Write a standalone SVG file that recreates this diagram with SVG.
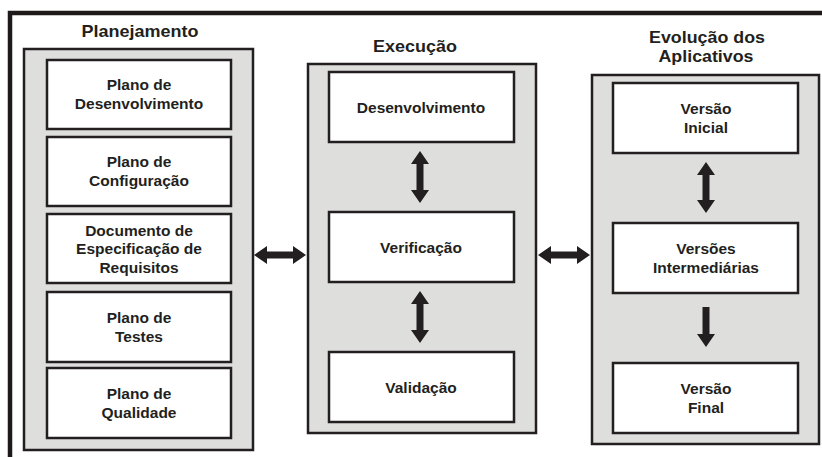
<svg xmlns="http://www.w3.org/2000/svg" width="822" height="457" viewBox="0 0 822 457">
<style>
.frame{stroke:#1e1a1a;stroke-width:4.5;fill:none}
.cont{fill:#dededc;stroke:#231f20;stroke-width:2.5}
.box{fill:#ffffff;stroke:#231f20;stroke-width:2.5}
.t{font-family:"Liberation Sans",Arial,sans-serif;font-weight:bold;font-size:15.5px;fill:#231f20;text-anchor:middle}
.h{font-family:"Liberation Sans",Arial,sans-serif;font-weight:bold;font-size:16.5px;fill:#231f20;text-anchor:middle}
.arr{fill:#231f20}
</style>
<rect width="822" height="457" fill="#ffffff"/>
<path class="frame" d="M10,457 V13 H822"/>
<g id="planejamento">
<text class="h" x="140" y="37" textLength="117" lengthAdjust="spacingAndGlyphs">Planejamento</text>
<rect class="cont" x="24" y="49" width="229" height="401"/>
<g id="plano-desenvolvimento"><rect class="box" x="47" y="60" width="184" height="69"/><text class="t" x="139" y="90">Plano de</text><text class="t" x="139" y="109">Desenvolvimento</text></g>
<g id="plano-configuracao"><rect class="box" x="47" y="137" width="184" height="69"/><text class="t" x="139" y="167">Plano de</text><text class="t" x="139" y="186">Configuração</text></g>
<g id="doc-requisitos"><rect class="box" x="47" y="214" width="184" height="69"/><text class="t" x="139" y="235.5">Documento de</text><text class="t" x="139" y="254">Especificação de</text><text class="t" x="139" y="272.5">Requisitos</text></g>
<g id="plano-testes"><rect class="box" x="47" y="292" width="184" height="70"/><text class="t" x="139" y="322.5">Plano de</text><text class="t" x="139" y="341.5">Testes</text></g>
<g id="plano-qualidade"><rect class="box" x="47" y="368" width="184" height="70"/><text class="t" x="139" y="398.5">Plano de</text><text class="t" x="139" y="417.5">Qualidade</text></g>
</g>
<g id="execucao">
<text class="h" x="415" y="52" textLength="84" lengthAdjust="spacingAndGlyphs">Execução</text>
<rect class="cont" x="308" y="64" width="228" height="369"/>
<g id="desenvolvimento"><rect class="box" x="329" y="72" width="185" height="70"/><text class="t" x="421" y="112.5">Desenvolvimento</text></g>
<g id="verificacao"><rect class="box" x="329" y="212" width="185" height="70"/><text class="t" x="421" y="252.5">Verificação</text></g>
<g id="validacao"><rect class="box" x="329" y="352" width="185" height="70"/><text class="t" x="421" y="392.5">Validação</text></g>
</g>
<g id="evolucao">
<text class="h" x="707" y="43" textLength="116" lengthAdjust="spacingAndGlyphs">Evolução dos</text>
<text class="h" x="706" y="62" textLength="95" lengthAdjust="spacingAndGlyphs">Aplicativos</text>
<rect class="cont" x="592" y="75" width="227" height="369"/>
<g id="versao-inicial"><rect class="box" x="613" y="83" width="185" height="70"/><text class="t" x="706" y="113.5">Versão</text><text class="t" x="706" y="132.5">Inicial</text></g>
<g id="versoes-intermediarias"><rect class="box" x="613" y="223" width="185" height="70"/><text class="t" x="706" y="253.5">Versões</text><text class="t" x="706" y="272.5">Intermediárias</text></g>
<g id="versao-final"><rect class="box" x="613" y="363" width="185" height="70"/><text class="t" x="706" y="393.5">Versão</text><text class="t" x="706" y="412.5">Final</text></g>
</g>
<g id="connectors">
<polygon class="arr" points="420,151 429,164 423.5,164 423.5,190 429,190 420,203 411,190 416.5,190 416.5,164 411,164"/>
<polygon class="arr" points="420,291 429,304 423.5,304 423.5,330 429,330 420,343 411,330 416.5,330 416.5,304 411,304"/>
<polygon class="arr" points="254,255 267,246 267,251.5 293,251.5 293,246 306,255 293,264 293,258.5 267,258.5 267,264"/>
<polygon class="arr" points="538,255 551,246 551,251.5 577,251.5 577,246 590,255 577,264 577,258.5 551,258.5 551,264"/>
<polygon class="arr" points="706,162 715,175 709.5,175 709.5,200 715,200 706,213 697,200 702.5,200 702.5,175 697,175"/>
<polygon class="arr" points="702.5,307 709.5,307 709.5,334 715,334 706,347 697,334 702.5,334"/>
</g>
</svg>
